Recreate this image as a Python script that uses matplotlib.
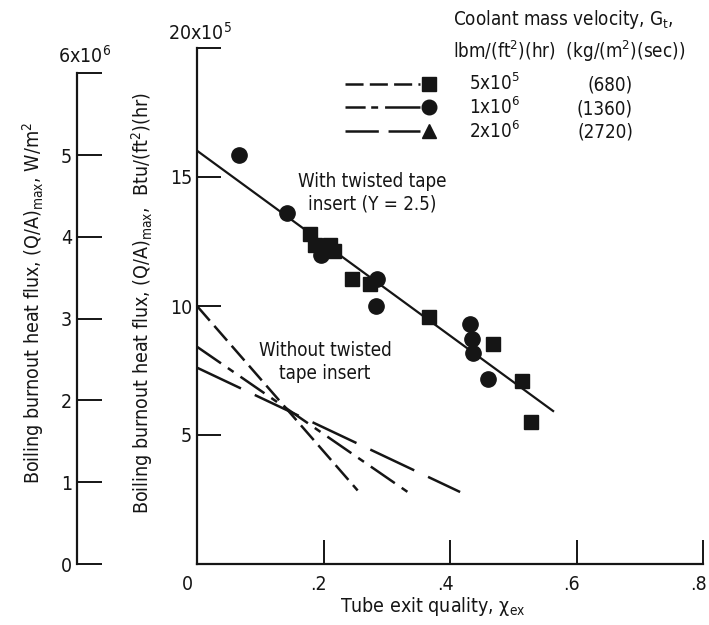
import matplotlib
matplotlib.use("Agg")
import matplotlib.pyplot as plt
from matplotlib.lines import Line2D
from matplotlib import font_manager as fm
import matplotlib.transforms as mtransforms

# ---- data ----
xticks = [0, 0.2, 0.4, 0.6, 0.8]
xticklabels = ['0', '.2', '.4', '.6', '.8']
yticks = [5, 10, 15, 20]
yticklabels = ['5', '10', '15', '']
si_ticks = [0, 1, 2, 3, 4, 5, 6]
si_ticklabels = ['0', '1', '2', '3', '4', '5', '']

# G = 5x10^5 (squares)
sq_x = [0.178, 0.187, 0.210, 0.217, 0.245, 0.274, 0.367, 0.468, 0.514, 0.528]
sq_y = [12.79, 12.36, 12.36, 12.14, 11.05, 10.85, 9.57, 8.53, 7.09, 5.50]
# G = 1x10^6 (circles)
ci_x = [0.066, 0.143, 0.196, 0.285, 0.283, 0.432, 0.435, 0.437, 0.460]
ci_y = [15.85, 13.62, 11.98, 11.04, 10.0, 9.30, 8.72, 8.18, 7.17]

# with twisted tape, fitted line
fit_x = [0.0, 0.563]
fit_y = [16.02, 5.93]

# without twisted tape
g5_x, g5_y = [0.0, 0.254], [10.0, 2.85]
g1_x, g1_y = [0.0, 0.342], [8.42, 2.64]
g2_x, g2_y = [0.0, 0.416], [7.61, 2.79]

leg_g = ['5x10$^{5}$', '1x10$^{6}$', '2x10$^{6}$']
leg_si = ['(680)', '(1360)', '(2720)']
leg_markers = ['s', 'o', '^']

BTU_TO_SI = 3.1546  # W/m2 per Btu/(ft2 hr)

# a narrow face if one is there, else Liberation Sans a bit smaller
cond = [f for f in fm.fontManager.ttflist
        if 'condensed' in f.fname.lower() and 'dejavusans' in f.fname.lower().replace('-', '')
        and 'bold' not in f.fname.lower() and 'oblique' not in f.fname.lower()]
if cond:
    fm.fontManager.addfont(cond[0].fname)
    fam = cond[0].name
    plt.rcParams['font.stretch'] = 'condensed'
    fs = 14
else:
    fam = 'Liberation Sans'
    fs = 13.5
plt.rcParams['font.family'] = [fam, 'DejaVu Sans']
plt.rcParams['mathtext.fontset'] = 'custom'
plt.rcParams['mathtext.rm'] = fam
plt.rcParams['mathtext.it'] = fam + ':italic'
plt.rcParams['lines.scale_dashes'] = False

W, H = 709, 625
fig = plt.figure(figsize=(W / 100, H / 100), dpi=100)


def fx(px):
    return px / W


def fy(py):
    return 1 - py / H


ink = '#151515'
dash_sq = (0, (14, 5))
dash_ci = (0, (21, 6, 5, 6))
dash_tr = (0, (35, 11))
# shorter versions for the legend keys
key_styles = [(0, (13, 4.5)), (0, (14.5, 4, 5, 5, 40, 5)), (0, (24, 7))]

ax = fig.add_axes([fx(197), fy(564), (703 - 197) / W, (564 - 48) / H])
ax.set_xlim(0, 0.8)
ax.set_ylim(0, 20)
for s in ['top', 'right']:
    ax.spines[s].set_visible(False)
for s in ['left', 'bottom']:
    ax.spines[s].set_linewidth(1.6)
    ax.spines[s].set_color(ink)
ax.set_xticks(xticks)
ax.set_xticklabels(xticklabels, fontsize=fs)
ax.set_yticks(yticks)
ax.set_yticklabels(yticklabels, fontsize=fs)
ax.tick_params(axis='x', direction='in', length=17, width=1.4, pad=8, colors=ink)
ax.tick_params(axis='y', direction='in', length=17, width=1.4, pad=3.6, colors=ink)
for k, lab in enumerate(ax.get_xticklabels()):
    dx = -10 if k == 0 else -5
    lab.set_transform(lab.get_transform() +
                      mtransforms.ScaledTranslation(dx / 100, 0, fig.dpi_scale_trans))

ax.plot(fit_x, fit_y, color=ink, lw=1.6, zorder=2)
ax.plot(g5_x, g5_y, color=ink, lw=1.8, ls=dash_sq)
ax.plot(g1_x, g1_y, color=ink, lw=1.8, ls=dash_ci)
ax.plot(g2_x, g2_y, color=ink, lw=1.8, ls=dash_tr)
ax.plot(sq_x, sq_y, ls='none', marker='s', ms=10.5, color=ink, zorder=3)
ax.plot(ci_x, ci_y, ls='none', marker='o', ms=11, color=ink, zorder=3)

ax.text(0.277, 14.4, 'With twisted tape\ninsert (Y = 2.5)', ha='center', va='center',
        fontsize=fs - 0.5, color=ink, linespacing=1.25)
ax.text(0.2025, 7.83, 'Without twisted\ntape insert', ha='center', va='center',
        fontsize=fs - 0.5, color=ink, linespacing=1.25)

# SI axis on the far left
ax2 = fig.add_axes([fx(77), fy(564), 30 / W, (564 - 48) / H])
ax2.set_ylim(0, 20 * BTU_TO_SI / 10)
ax2.patch.set_visible(False)
for s in ['top', 'right', 'bottom']:
    ax2.spines[s].set_visible(False)
ax2.spines['left'].set_bounds(0, 6)
ax2.spines['left'].set_linewidth(1.6)
ax2.spines['left'].set_color(ink)
ax2.set_xticks([])
ax2.set_yticks(si_ticks)
ax2.set_yticklabels(si_ticklabels, fontsize=fs)
ax2.tick_params(axis='y', direction='in', length=18, width=1.4, pad=3.6, colors=ink)

fig.text(fx(200), fy(40), '20x10$^{5}$', ha='center', va='baseline', fontsize=fs, color=ink)
fig.text(fx(85), fy(63), '6x10$^{6}$', ha='center', va='baseline', fontsize=fs, color=ink)

fig.text(fx(142), fy(303), 'Boiling burnout heat flux, (Q/A)$_{\\mathrm{max}}$,  Btu/(ft$^{\\mathrm{2}}$)(hr)',
         rotation=90, ha='center', va='center', fontsize=fs, color=ink)
fig.text(fx(33), fy(303), 'Boiling burnout heat flux, (Q/A)$_{\\mathrm{max}}$, W/m$^{\\mathrm{2}}$',
         rotation=90, ha='center', va='center', fontsize=fs, color=ink)
fig.text(fx(433), fy(612), 'Tube exit quality, χ$_{\\mathrm{ex}}$', ha='center', va='baseline',
         fontsize=fs, color=ink)

# legend block
fig.text(fx(453), fy(25), 'Coolant mass velocity, G$_{\\mathrm{t}}$,', ha='left', va='baseline',
         fontsize=fs - 0.5, color=ink)
fig.text(fx(453), fy(58), 'lbm/(ft$^{\\mathrm{2}}$)(hr)  (kg/(m$^{\\mathrm{2}}$)(sec))', ha='left',
         va='baseline', fontsize=fs - 0.5, color=ink)
for i, (g, si, mk, ls) in enumerate(zip(leg_g, leg_si, leg_markers, key_styles)):
    yc = 83.5 + 23.7 * i
    fig.add_artist(Line2D([fx(345), fx(420)], [fy(yc), fy(yc)], color=ink, lw=1.8, ls=ls))
    fig.add_artist(Line2D([fx(429)], [fy(yc)], marker=mk, ms=10.5, color=ink, ls='none'))
    fig.text(fx(469), fy(yc + 7), g, ha='left', va='baseline', fontsize=fs - 0.5, color=ink)
    fig.text(fx(633), fy(yc + 7), si, ha='right', va='baseline', fontsize=fs - 0.5, color=ink)

fig.savefig('out.png', dpi=100)
